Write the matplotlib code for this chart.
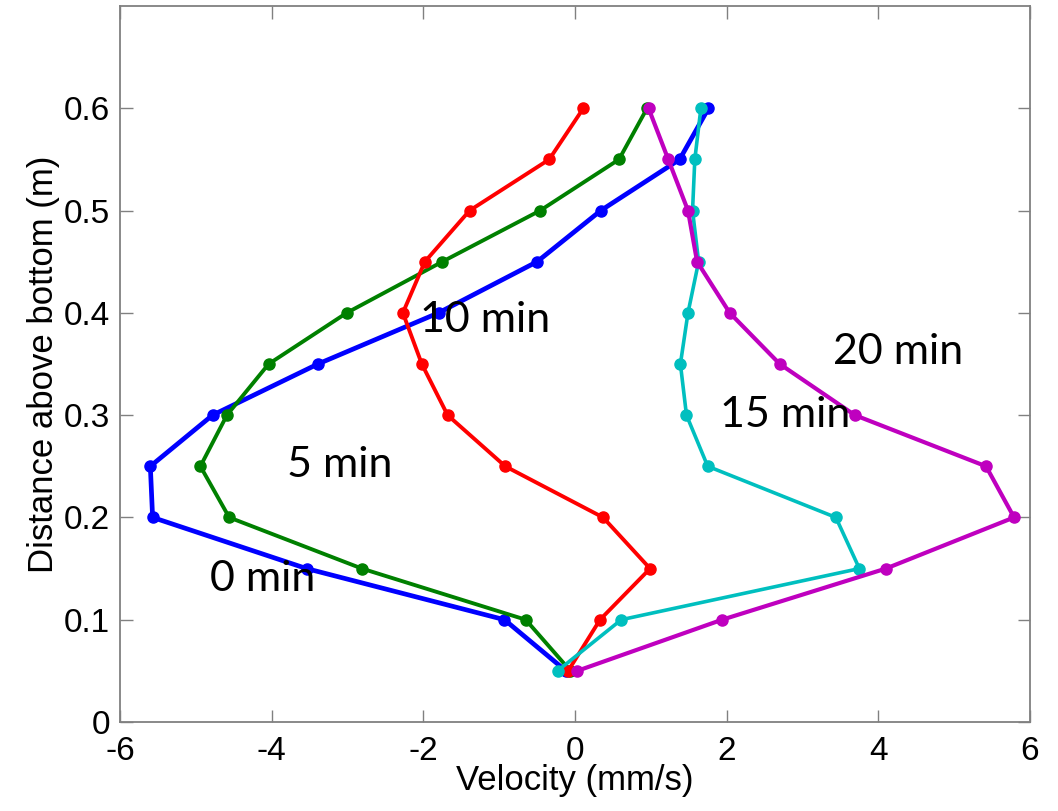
import numpy as np
import matplotlib.pyplot as plt

plt.rcParams['axes.unicode_minus'] = False

# distance above bottom (m), same for every profile
heights = [0.05, 0.10, 0.15, 0.20, 0.25, 0.30, 0.35, 0.40, 0.45, 0.50, 0.55, 0.60]

# velocity profiles (mm/s)
v_0min = [-0.12, -0.93, -3.54, -5.57, -5.60, -4.78, -3.39, -1.80, -0.50, 0.34, 1.38, 1.76]
v_5min = [-0.06, -0.65, -2.81, -4.56, -4.94, -4.59, -4.04, -3.01, -1.75, -0.46, 0.58, 0.95]
v_10min = [-0.09, 0.33, 0.99, 0.37, -0.92, -1.68, -2.02, -2.27, -1.98, -1.39, -0.34, 0.11]
v_15min = [-0.23, 0.61, 3.75, 3.44, 1.75, 1.47, 1.39, 1.49, 1.63, 1.55, 1.58, 1.66]
v_20min = [0.03, 1.94, 4.10, 5.79, 5.42, 3.69, 2.70, 2.04, 1.61, 1.49, 1.23, 0.97]

labels = ["0 min", "5 min", "10 min", "15 min", "20 min"]
label_pos = [(-4.81, 0.14), (-3.80, 0.251), (-2.04, 0.393), (1.91, 0.30), (3.40, 0.362)]

profiles = [v_0min, v_5min, v_10min, v_15min, v_20min]
colors = [(0, 0, 1), (0, 0.5, 0), (1, 0, 0), (0, 0.75, 0.75), (0.75, 0, 0.75)]
widths = [3.4, 2.8, 2.8, 2.6, 3.0]

fig = plt.figure(figsize=(10.58, 8.11), dpi=100)
ax = fig.add_axes([120/1058, (811-722)/811, 910/1058, 716/811])

for v, c, w in zip(profiles, colors, widths):
	ax.plot(v, heights, '-', color=c, lw=w, marker='o', ms=8, mec=c, mfc=c)

for txt, (x, y) in zip(labels, label_pos):
	ax.text(x, y, txt, fontsize=31, family='Lato', ha='left', va='center')

ax.set_xlim(-6, 6)
ax.set_ylim(0, 0.7)
ax.set_xticks(np.arange(-6, 7, 2))
ax.set_yticks(np.arange(0, 0.61, 0.1))
ax.set_yticklabels(["0", "0.1", "0.2", "0.3", "0.4", "0.5", "0.6"])

for s in ax.spines.values():
	s.set_color('#808080')
	s.set_linewidth(1.3)
ax.tick_params(direction='in', length=9, width=1, color='#808080', top=True, right=True,
	labelsize=24, labelcolor='black')
ax.tick_params(axis='x', pad=10)
ax.tick_params(axis='y', pad=7)
for lab in ax.get_xticklabels() + ax.get_yticklabels():
	lab.set_family('Liberation Sans')

ax.set_xlabel("Velocity (mm/s)", fontsize=25, family='Liberation Sans', labelpad=-2)
ax.set_ylabel("Distance above bottom (m)", fontsize=25, family='Liberation Sans', labelpad=3)

fig.savefig("out.png", dpi=100)
